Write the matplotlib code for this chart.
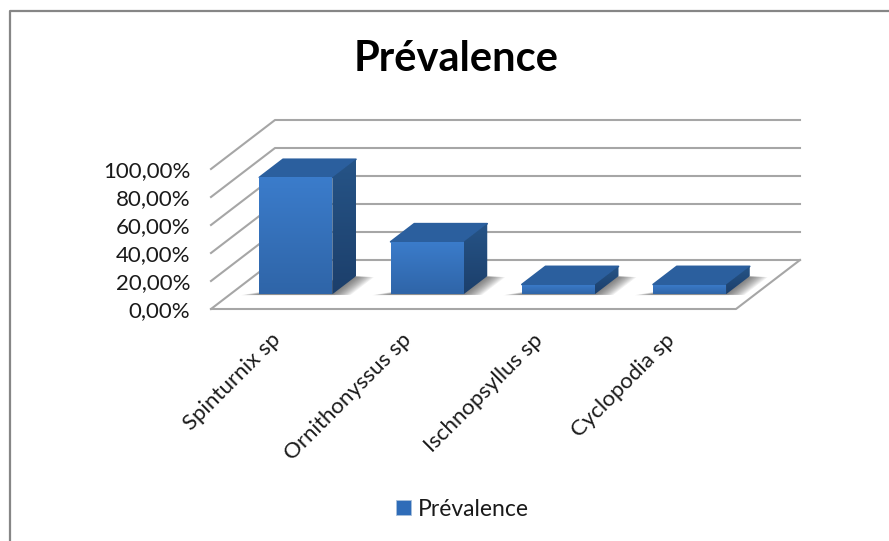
import numpy as np
import matplotlib
matplotlib.use('Agg')
import matplotlib.pyplot as plt
from matplotlib.patches import Polygon, Patch
from matplotlib.colors import LinearSegmentedColormap
from matplotlib.transforms import ScaledTranslation

#-----------DATA----------------#
species = ['Spinturnix sp', 'Ornithonyssus sp', 'Ischnopsyllus sp', 'Cyclopodia sp']
prevalence = [83.5, 37.5, 7.0, 7.0]
y_ticks = [0, 20, 40, 60, 80, 100]
y_labels = ['0,00%', '20,00%', '40,00%', '60,00%', '80,00%', '100,00%']
series_name = 'Prévalence'

W, H = 889, 541
# floor depth in pixels, back wall sits up and to the right of the front plane
DX, DY = 64., 49.
FRONT_L, FRONT_R, FRONT_B, FRONT_T = 211., 736., 309., 169.
BAR_W = 0.556
D0, D1 = 0.30, 0.67

plt.rcParams['font.family'] = ['Lato', 'DejaVu Sans']
fig = plt.figure(figsize=(W/100., H/100.), dpi=100)
fig.patch.set_facecolor('white')

# outer chart border
fig.add_artist(plt.Line2D([9.5/W, 9.5/W, 1.0], [0, 1-10.5/H, 1-10.5/H],
                          color='#868686', lw=1.6, transform=fig.transFigure))

ax = fig.add_axes([FRONT_L/W, 1-FRONT_B/H, (FRONT_R-FRONT_L)/W, (FRONT_B-FRONT_T)/H])
ax.set_xlim(0, 4)
ax.set_ylim(0, 100)
ax.patch.set_visible(False)
for s in ax.spines.values():
    s.set_visible(False)

sx = 4./(FRONT_R-FRONT_L)
sy = 100./(FRONT_B-FRONT_T)

def proj(x, y, d):
    # oblique projection, d is depth from 0 (front) to 1 (back wall)
    return (x + d*DX*sx, y + d*DY*sy)

grid = '#a6a6a6'
for t in y_ticks:
    xs, ys = zip(proj(0, t, 0), proj(0, t, 1), proj(4, t, 1))
    ax.plot(xs, ys, color=grid, lw=1.5, clip_on=False, zorder=1)
xs, ys = zip(proj(0, 0, 0), proj(4, 0, 0), proj(4, 0, 1))
ax.plot(xs, ys, color=grid, lw=1.5, clip_on=False, zorder=1)

front_cm = LinearSegmentedColormap.from_list('front', ['#3b7ccb', '#2f65a8'])
side_cm = LinearSegmentedColormap.from_list('side', ['#265487', '#1c3f6b'])

def grad_face(pts, cm):
    poly = Polygon(pts, closed=True, fc='none', ec='none', transform=ax.transData)
    ax.add_patch(poly)
    xs = [p[0] for p in pts]
    ys = [p[1] for p in pts]
    g = np.linspace(0, 1, 64).reshape(-1, 1)
    im = ax.imshow(g, cmap=cm, aspect='auto', zorder=4, origin='upper',
                   extent=[min(xs), max(xs), min(ys), max(ys)])
    # faces reach past the axes box, so clip on the face only
    im.set_clip_path(poly)
    im.set_clip_box(fig.bbox)

for i, v in enumerate(prevalence):
    x0 = i + 0.5 - BAR_W/2
    x1 = i + 0.5 + BAR_W/2
    # soft shadow on the floor, stacked transparent layers
    for k in range(12):
        g = (12-k)*0.011
        shadow = [proj(x0-g, 0, D0-0.005-g*0.1), proj(x1, 0, D0-0.005-g*0.1),
                  proj(x1+g*1.1, 0, D0-g*0.1), proj(x1+g*1.1, 0, D1-0.02),
                  proj(x1, 0, D1-0.02+g*0.2)]
        ax.add_patch(Polygon(shadow, closed=True, fc='#444444', ec='none', alpha=0.08,
                             clip_on=False, zorder=2))
    # top, side and front faces
    top = [proj(x0, v, D0), proj(x1, v, D0), proj(x1, v, D1), proj(x0, v, D1)]
    ax.add_patch(Polygon(top, closed=True, fc='#2b5f9e', ec='#2b5f9e', lw=1.2,
                         joinstyle='round', clip_on=False, zorder=3))
    side = [proj(x1, 0, D0), proj(x1, v, D0), proj(x1, v, D1), proj(x1, 0, D1)]
    grad_face(side, side_cm)
    front = [proj(x0, 0, D0), proj(x1, 0, D0), proj(x1, v, D0), proj(x0, v, D0)]
    grad_face(front, front_cm)

ax.set_xlim(0, 4)
ax.set_ylim(0, 100)

ax.set_yticks(y_ticks)
ax.set_yticklabels(y_labels, fontsize=16, color='#1a1a1a')
ax.tick_params(axis='y', length=0, pad=15)
ax.set_xticks([i + 0.5 for i in range(len(species))])
ax.set_xticklabels(species, rotation=45, ha='right', rotation_mode='anchor',
                   fontsize=16, color='#1a1a1a')
ax.tick_params(axis='x', length=0, pad=15)
shift = ScaledTranslation(-4.5/72., 0, fig.dpi_scale_trans)
for lab in ax.get_xticklabels():
    lab.set_transform(lab.get_transform() + shift)

fig.text(456/W, 1-59/H, 'Prévalence', fontsize=30, fontweight='bold', color='black',
         ha='center', va='center')

handle = Patch(fc='#2f6cb8', ec='#a9c0dc', lw=0.6)
leg = fig.legend(handles=[handle], labels=[series_name], loc='center',
                 bbox_to_anchor=(462/W, 1-509/H), frameon=False, fontsize=16.5,
                 handlelength=0.65, handleheight=0.65, handletextpad=0.3,
                 labelcolor='#1a1a1a')

fig.savefig('out.png', dpi=100)
